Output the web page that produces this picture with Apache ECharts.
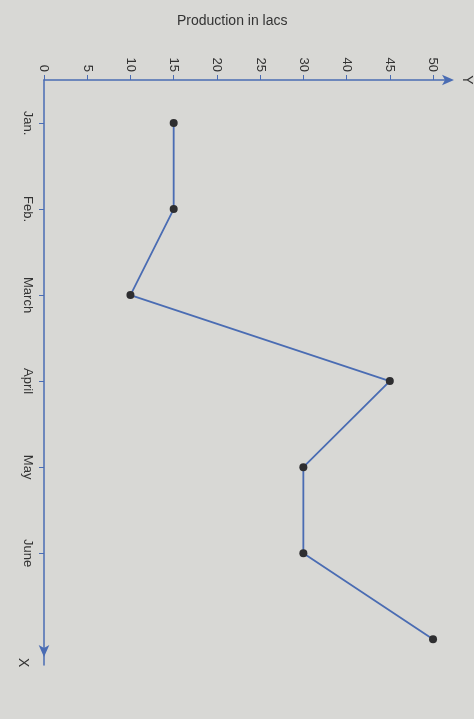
<!DOCTYPE html>
<html>
<head>
<meta charset="utf-8">
<script src="https://cdn.jsdelivr.net/npm/echarts@6/dist/echarts.min.js"></script>
<style>
html, body { margin: 0; padding: 0; background: #d8d8d5; }
#chart { width: 474px; height: 719px; }
</style>
</head>
<body>
<div id="chart"></div>
<script>
// Data
var months = ['Jan.', 'Feb.', 'March', 'April', 'May', 'June', ''];
var production = [15, 15, 10, 45, 30, 30, 50];
// tick labels as printed (note the printed scale skips 35)
var tickLabels = ['0', '5', '10', '15', '20', '25', '30', '40', '45', '50'];

// map printed value to its tick position on the axis
var toPos = function(v) {
    var i = tickLabels.indexOf(String(v));
    return i * 5;
};

var axisColor = '#4a6cb3';
var points = production.map(function(v, i) { return [toPos(v), i + 0.5]; });
var tickPos = tickLabels.map(function(t, i) { return i * 5; });
var monthPos = months.slice(0, 6).map(function(m, i) { return i + 0.5; });

var chart = echarts.init(document.getElementById('chart'));
chart.setOption({
    backgroundColor: '#d8d8d5',
    textStyle: { fontFamily: 'Liberation Sans, Arial, sans-serif', color: '#333' },
    title: {
        text: 'Production in lacs',
        left: 172, top: 9,
        textStyle: { fontSize: 14, fontWeight: 'normal', color: '#333' }
    },
    grid: { left: 44, right: 26, top: 80, bottom: 54 },
    xAxis: {
        type: 'value', position: 'top',
        min: 0, max: 46.5,
        name: 'Y', nameLocation: 'end', nameRotate: -90, nameGap: 6,
        nameTextStyle: { fontSize: 14, color: '#333', verticalAlign: 'bottom', padding: [0, 0, 8, 0] },
        splitLine: { show: false },
        axisLine: { show: true, lineStyle: { color: axisColor, width: 1.5 }, symbol: ['none', 'arrow'], symbolSize: [8, 12], symbolOffset: [0, 8] },
        axisTick: { show: true, length: 5, lineStyle: { color: axisColor }, customValues: tickPos },
        axisLabel: {
            rotate: -90, fontSize: 13, color: '#333', margin: 8,
            customValues: tickPos,
            formatter: function(v) { return tickLabels[Math.round(v / 5)]; }
        }
    },
    yAxis: {
        type: 'value', inverse: true,
        min: 0, max: 6.8,
        splitLine: { show: false },
        axisLine: { show: true, lineStyle: { color: axisColor, width: 1.5 }, symbol: ['arrow', 'none'], symbolSize: [8, 12], symbolOffset: [8, 0] },
        axisTick: { show: true, length: 5, lineStyle: { color: axisColor }, customValues: monthPos },
        axisLabel: {
            rotate: -90, fontSize: 13, color: '#333', margin: 10,
            customValues: monthPos,
            formatter: function(v) { return months[Math.floor(v)]; }
        }
    },
    graphic: [{
        type: 'text', left: 16, top: 658, rotation: -Math.PI / 2,
        style: { text: 'X', fontSize: 14, fill: '#333', font: '14px Liberation Sans' }
    }],
    series: [{
        type: 'line',
        data: points,
        symbol: 'circle', symbolSize: 8,
        lineStyle: { color: '#4a6cb3', width: 1.8 },
        itemStyle: { color: '#2e2e30' },
        animation: false
    }]
});
</script>
</body>
</html>
